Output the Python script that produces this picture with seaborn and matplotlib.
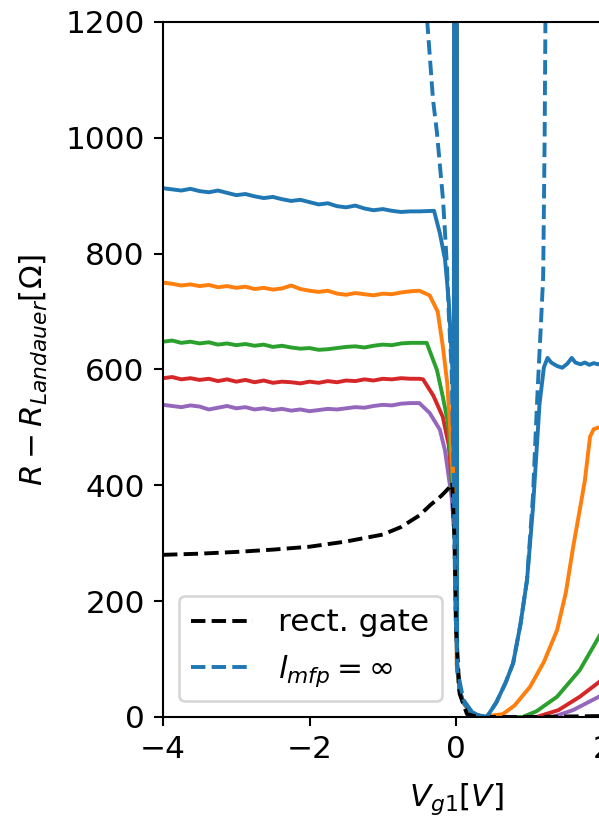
import numpy as np
import pandas as pd
import matplotlib
matplotlib.use("Agg")
import matplotlib.pyplot as plt
import seaborn as sns

# =====================================================
# DATA
# =====================================================

# common gate-voltage grid of the flat plateau on the negative side
v_plateau = [-4.0, -3.875, -3.75, -3.625, -3.5, -3.375, -3.25, -3.125,
             -3.0, -2.875, -2.75, -2.625, -2.5, -2.375, -2.25, -2.125,
             -2.0, -1.875, -1.75, -1.625, -1.5, -1.375, -1.25, -1.125,
             -1.0, -0.875, -0.75, -0.625, -0.5]

# blue
r_blue_plateau = [913, 911, 909, 912, 908, 906, 909, 905,
                  901, 903, 899, 896, 898, 894, 891, 893,
                  889, 885, 887, 882, 880, 883, 878, 875,
                  877, 874, 872, 873, 873]
v_blue_tail = [-0.3, -0.22, -0.15, -0.1, -0.05, -0.03, -0.02, 0.005, 0.015, 0.05,
               0.1, 0.2, 0.3, 0.42, 0.55, 0.68, 0.78, 0.88, 0.97, 1.05,
               1.1, 1.14, 1.2, 1.25, 1.3, 1.38, 1.45, 1.52, 1.58, 1.63,
               1.7, 1.76, 1.82, 1.88, 1.94, 2.0, 2.1]
r_blue_tail = [874, 835, 790, 720, 600, 450, 3000, 3000, 90, 45,
               25, 10, 3, 0, 25, 60, 93, 160, 237, 360,
               460, 540, 604, 620, 612, 606, 603, 610, 620, 612,
               609, 612, 608, 611, 609, 611, 609]

# orange
r_orange_plateau = [750, 748, 745, 747, 744, 746, 742, 744,
                    741, 743, 739, 741, 738, 740, 745, 739,
                    736, 734, 736, 731, 729, 732, 730, 728,
                    731, 730, 733, 735, 736]
v_orange_tail = [-0.36, -0.25, -0.18, -0.12, -0.08, -0.03, -0.015, 0.0, 0.01, 0.05,
                 0.1, 0.2, 0.35, 0.64, 0.8, 1.01, 1.2, 1.38, 1.5, 1.6,
                 1.7, 1.76, 1.83, 1.88, 1.95, 2.1]
r_orange_tail = [728, 700, 640, 577, 500, 380, 3000, 3000, 90, 45,
                 25, 8, 0, 5, 20, 52, 95, 150, 215, 294,
                 365, 409, 484, 497, 500, 502]

# green
r_green_plateau = [648, 650, 646, 648, 645, 647, 643, 645,
                   642, 644, 641, 643, 639, 641, 638, 636,
                   637, 634, 635, 637, 639, 640, 638, 641,
                   643, 642, 645, 646, 646]
v_green_tail = [-0.4, -0.26, -0.18, -0.11, -0.06, -0.03, -0.012, 0.002, 0.012, 0.05,
                0.1, 0.2, 0.35, 0.91, 1.1, 1.38, 1.69, 1.95, 2.1]
r_green_tail = [646, 599, 553, 508, 430, 350, 3000, 3000, 90, 45,
                25, 8, 0, 0, 10, 35, 81, 138, 175]

# red
r_red_plateau = [585, 587, 583, 585, 582, 584, 580, 583,
                 579, 582, 578, 581, 577, 579, 578, 576,
                 579, 577, 580, 578, 581, 580, 583, 581,
                 584, 583, 585, 584, 584]
v_red_tail = [-0.45, -0.31, -0.18, -0.1, -0.05, -0.025, -0.01, 0.004, 0.014, 0.05,
              0.1, 0.2, 0.35, 1.1, 1.4, 1.69, 1.95, 2.1]
r_red_tail = [583, 555, 518, 470, 400, 330, 3000, 3000, 90, 45,
              25, 8, 0, 0, 12, 35, 60, 75]

# purple
r_purple_plateau = [539, 537, 535, 538, 536, 531, 534, 537,
                    533, 535, 531, 533, 530, 532, 529, 531,
                    528, 530, 532, 531, 533, 535, 534, 537,
                    539, 538, 541, 542, 542]
v_purple_tail = [-0.36, -0.22, -0.15, -0.1, -0.06, -0.03, -0.008, 0.006, 0.016, 0.05,
                 0.1, 0.2, 0.35, 1.32, 1.6, 1.95, 2.1]
r_purple_tail = [525, 496, 460, 415, 380, 330, 3000, 3000, 90, 45,
                 25, 8, 0, 0, 12, 35, 48]

# rectangular gate model (black dashed)
v_rect = [-4.0, -3.5, -3.0, -2.5, -2.0, -1.5, -1.0, -0.75, -0.5, -0.35,
          -0.2, -0.1, -0.05, -0.02, 0.0, 0.05, 0.15, 0.3, 1.0, 2.2]
r_rect = [280, 282, 285, 289, 294, 303, 315, 328, 348, 366,
          382, 395, 405, 300, 150, 40, 5, 0, 0, 2]

# infinite mean free path (blue dashed)
v_inf = [-0.45, -0.382, -0.314, -0.26, -0.218, -0.177, -0.15, -0.123, -0.1, -0.06,
         -0.03, -0.01, 0.02, 0.1, 0.2, 0.3, 0.42, 0.55, 0.68, 0.78,
         0.88, 0.97, 1.05, 1.11, 1.16, 1.19, 1.21, 1.22, 1.24]
r_inf = [1300, 1183, 1066, 1009, 950, 893, 836, 777, 700, 600,
         400, 200, 80, 30, 12, 3, 0, 25, 60, 93,
         160, 237, 380, 553, 680, 760, 1000, 1190, 1500]

y_ticks = [0, 200, 400, 600, 800, 1000, 1200]
x_ticks = [-4, -2, 0, 2, 4]

# =====================================================
# SETTINGS
# =====================================================

sns.set_theme(style="ticks", palette="tab10")
plt.rcParams.update({
    "font.family": ["DejaVu Sans"],
    "mathtext.fontset": "dejavusans",
    "font.size": 12,
    "axes.labelsize": 12,
    "xtick.labelsize": 12,
    "ytick.labelsize": 12,
    "legend.fontsize": 12,
    "axes.linewidth": 0.8,
    "xtick.major.width": 0.8,
    "ytick.major.width": 0.8,
    "xtick.major.size": 3.5,
    "ytick.major.size": 3.5,
    "axes.edgecolor": "black",
    "xtick.color": "black",
    "ytick.color": "black",
    "text.color": "black",
    "axes.labelcolor": "black",
})

DPI = 187
fig = plt.figure(figsize=(599 / DPI, 820 / DPI), dpi=DPI)
ax = fig.add_axes([163 / 599, 103 / 820, 586 / 599, 695 / 820])

colors = sns.color_palette("tab10")

curves = [
    (r_blue_plateau, v_blue_tail, r_blue_tail, colors[0]),
    (r_orange_plateau, v_orange_tail, r_orange_tail, colors[1]),
    (r_green_plateau, v_green_tail, r_green_tail, colors[2]),
    (r_red_plateau, v_red_tail, r_red_tail, colors[3]),
    (r_purple_plateau, v_purple_tail, r_purple_tail, colors[4]),
]

# purple first, blue last so the blue spike sits on top
for r_plat, v_tail, r_tail, col in reversed(curves):
    df = pd.DataFrame({
        "V": v_plateau + v_tail,
        "R": r_plat + r_tail,
    })
    sns.lineplot(data=df, x="V", y="R", ax=ax, color=col,
                 linewidth=1.5, estimator=None, sort=False)

sns.lineplot(x=v_rect, y=r_rect, ax=ax, color="black", linewidth=1.5,
             linestyle="--", estimator=None, sort=False, label="rect. gate")
sns.lineplot(x=v_inf, y=r_inf, ax=ax, color=colors[0], linewidth=1.5,
             linestyle="--", estimator=None, sort=False,
             label=r"$l_{mfp} = \infty$")

ax.set_xlim(-4, 4)
ax.set_ylim(0, 1200)
ax.set_xticks(x_ticks)
ax.set_yticks(y_ticks)

ax.set_xlabel(r"$V_{g1}[V]$", labelpad=6.5)
ax.set_ylabel(r"$R - R_{Landauer}[\Omega]$", labelpad=6)

ax.legend(loc="lower left", frameon=True, framealpha=0.8,
          edgecolor="0.8", fancybox=True)

fig.savefig("out.png", dpi=DPI)
